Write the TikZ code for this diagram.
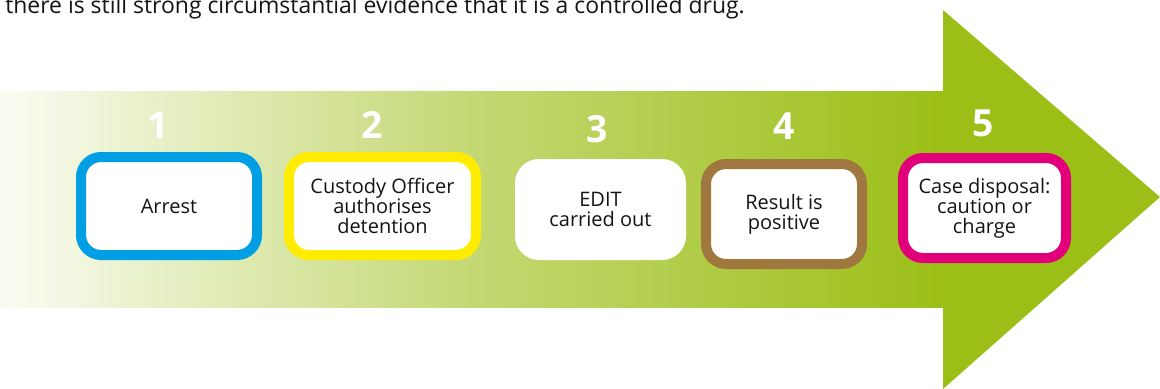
\documentclass[tikz,border=0pt]{standalone}
\usepackage{fontspec}
\setmainfont{Open Sans}
\usepackage{xcolor}
\usetikzlibrary{shadings}

\definecolor{arrowgreen}{HTML}{9CBF17}
\definecolor{paleleft}{HTML}{FAFCF3}
\definecolor{midgreen}{HTML}{C4D873}
\definecolor{inkdark}{HTML}{141414}
\definecolor{arrestblue}{HTML}{009FE3}
\definecolor{custodyyellow}{HTML}{FFEC00}
\definecolor{resultbrown}{HTML}{A0783F}
\definecolor{disposalpink}{HTML}{E2007A}

\pgfdeclarehorizontalshading{arrowfade}{100bp}{color(0bp)=(paleleft); color(25bp)=(paleleft);
  color(50bp)=(midgreen); color(75bp)=(arrowgreen); color(100bp)=(arrowgreen)}

\tikzset{
  stepbox/.style={draw, line width=7.5pt, fill=white, rounded corners=15pt,
    align=center, inner sep=0pt, text=inkdark,
    font=\fontsize{15}{15}\selectfont},
  stepnum/.style={text=white, inner sep=0pt,
    font=\fontsize{28}{28}\selectfont\bfseries},
}

\begin{document}
\begin{tikzpicture}[x=0.75pt,y=-0.75pt]
    \useasboundingbox (0,0) rectangle (1160,389);
    % the big arrow
    \fill[shading=arrowfade] (0,91) rectangle (944,307);
    \fill[arrowgreen] (943,10) -- (1160,197) -- (943,389) -- cycle;

    \node[anchor=base west, text=inkdark, inner sep=0pt,
      font=\fontsize{17.2}{20}\selectfont] (lead) at (5,13)
      {there is still strong circumstantial evidence that it is a controlled drug.};

    % steps
    \node[stepbox, draw=arrestblue, minimum width=132pt, minimum height=73.5pt]
      (arrest) at (169,206) {Arrest};
    \node[stepbox, draw=custodyyellow, minimum width=140.25pt, minimum height=73.5pt]
      (custody) at (382.5,206) {Custody Officer\\authorises\\detention};
    \node[stepbox, draw=none, rounded corners=18pt, minimum width=128.25pt, minimum height=75.75pt]
      (edit) at (600.5,209.5) {EDIT\\carried out};
    \node[stepbox, draw=resultbrown, minimum width=117pt, minimum height=75pt]
      (result) at (784,214) {Result is\\positive};
    \node[stepbox, draw=disposalpink, minimum width=122.25pt, minimum height=75pt]
      (disposal) at (984.5,208) {Case disposal:\\caution or\\charge};

    % step numbers
    \node[stepnum] (n1) at (158,125) {1};
    \node[stepnum] (n2) at (372,125) {2};
    \node[stepnum] (n3) at (597,129) {3};
    \node[stepnum] (n4) at (784,126) {4};
    \node[stepnum] (n5) at (983,123) {5};
\end{tikzpicture}
\end{document}
